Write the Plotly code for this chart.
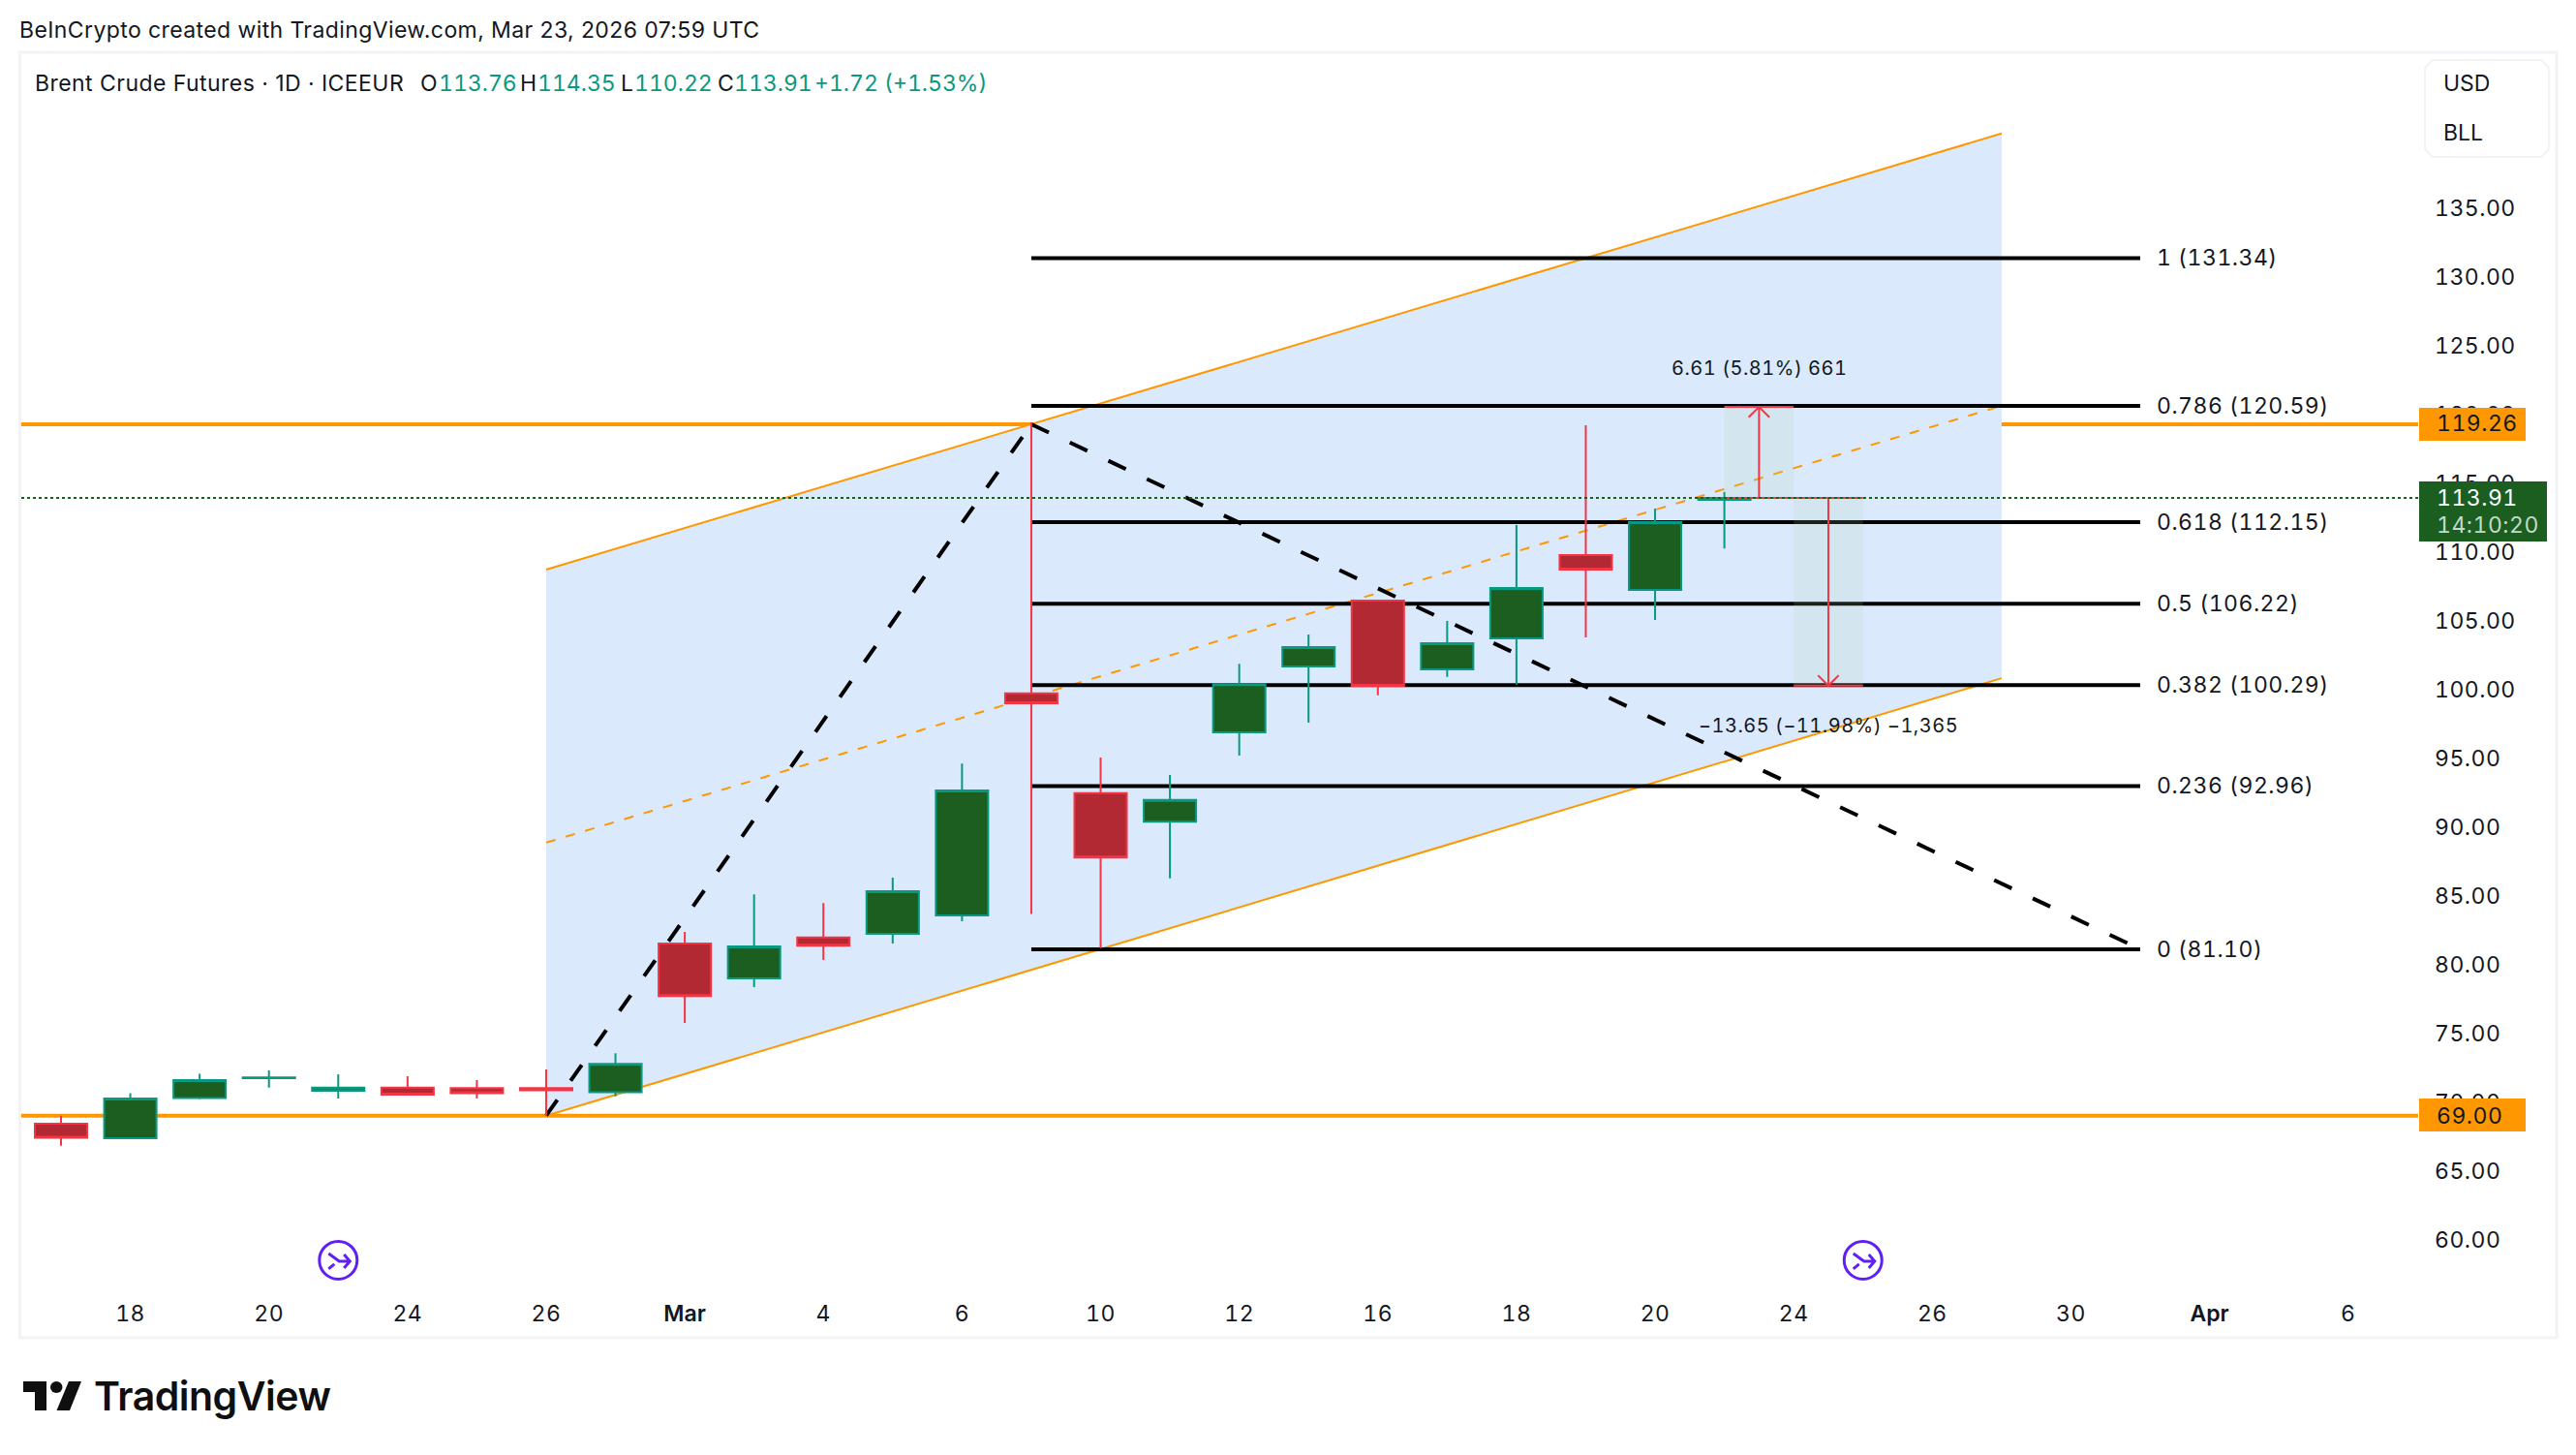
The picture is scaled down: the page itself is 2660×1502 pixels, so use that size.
import plotly.graph_objects as go

W, H = 2660, 1502
L, R, T, B = 22, 2497, 55, 1340

FONT = "Inter"
INK = "#131722"
UP_EDGE = "#089981"
UP_FILL = "#1B5E20"
DOWN_EDGE = "#F23645"
DOWN_FILL = "#B22833"
ORANGE = "#FF9800"
CHANNEL = "#DAE9FC"
PURPLE = "#5F1FF5"

# trading-day calendar (no weekends, no Good Friday)
days = ["Feb 17", "Feb 18", "Feb 19", "Feb 20", "Feb 23", "Feb 24", "Feb 25", "Feb 26", "Feb 27",
        "Mar 2", "Mar 3", "Mar 4", "Mar 5", "Mar 6", "Mar 9", "Mar 10", "Mar 11", "Mar 12", "Mar 13",
        "Mar 16", "Mar 17", "Mar 18", "Mar 19", "Mar 20", "Mar 23", "Mar 24", "Mar 25", "Mar 26",
        "Mar 27", "Mar 30", "Mar 31", "Apr 1", "Apr 2", "Apr 6"]
tick_days = ["Feb 18", "Feb 20", "Feb 24", "Feb 26", "Mar 2", "Mar 4", "Mar 6", "Mar 10", "Mar 12",
             "Mar 16", "Mar 18", "Mar 20", "Mar 24", "Mar 26", "Mar 30", "Apr 1", "Apr 6"]
tick_text = ["18", "20", "24", "26", "Mar", "4", "6", "10", "12", "16", "18", "20", "24", "26", "30", "Apr", "6"]

# OHLC, one per trading day up to Mar 23
opens = [68.41, 67.36, 70.29, 71.72, 70.81, 71.04, 71.00, 71.00, 70.71,
         81.51, 78.98, 81.96, 82.22, 83.55, 99.70, 92.45, 90.37, 96.86, 101.65,
         106.44, 101.44, 103.69, 109.75, 107.22, 113.76]
highs = [69.00, 70.64, 72.05, 72.29, 72.00, 71.86, 71.58, 72.36, 73.53,
         82.36, 85.09, 84.45, 86.30, 94.59, 119.40, 95.04, 93.77, 101.84, 103.98,
         106.44, 104.96, 111.93, 119.19, 113.13, 114.35]
lows = [66.82, 67.36, 70.20, 71.04, 70.24, 70.53, 70.24, 69.00, 70.40,
        75.74, 78.35, 80.32, 81.52, 83.13, 83.66, 81.18, 86.25, 95.17, 97.57,
        99.56, 100.90, 100.34, 103.76, 105.03, 110.22]
closes = [67.40, 70.24, 71.58, 71.78, 71.04, 70.53, 70.64, 70.85, 72.76,
          77.69, 81.30, 81.35, 85.32, 92.64, 98.97, 87.76, 91.96, 100.37, 103.07,
          100.24, 103.34, 107.36, 108.69, 112.15, 113.91]

# drawings
channel_days = ["Feb 26", "Mar 27"]
channel_top = [108.70, 140.40]
channel_mid = [88.85, 120.60]
channel_bottom = [69.00, 100.80]
resistance = 119.26
support = 69.00
last_price = 113.91
zigzag_days = ["Feb 26", "Mar 9", "Mar 31"]
zigzag_prices = [69.00, 119.26, 81.10]
fib_days = ["Mar 9", "Mar 31"]
fib_ratios = ["1", "0.786", "0.618", "0.5", "0.382", "0.236", "0"]
fib_prices = [131.34, 120.59, 112.15, 106.22, 100.29, 92.96, 81.10]
measure_up_days = ["Mar 23", "Mar 24"]
measure_up_prices = [113.91, 120.52]
measure_up_text = "6.61 (5.81%) 661"
measure_up_text_price = 123.35
measure_down_days = ["Mar 24", "Mar 25"]
measure_down_prices = [113.91, 100.26]
measure_down_text = "\u221213.65 (\u221211.98%) \u22121,365"
measure_down_text_price = 97.35
event_days = ["Feb 23", "Mar 25"]
event_price = 58.49
y_ticks = [60, 65, 70, 75, 80, 85, 90, 95, 100, 105, 110, 115, 120, 125, 130, 135]

ix = {d: i for i, d in enumerate(days)}


def xi(d):
    return ix[d]


def fx(px):
    return (px - L) / (R - L)


def fy(py):
    return (B - py) / (B - T)


def ppath(points, close=True):
    s = "M" + " L".join(f"{fx(a):.5f},{fy(b):.5f}" for a, b in points)
    return s + (" Z" if close else "")


def num(s, ls=0.5):
    return f'<span style="font-variant-numeric:tabular-nums;letter-spacing:{ls}px">{s}</span>'


def track(s, ls):
    return f'<span style="letter-spacing:{ls}px">{s}</span>'


shapes = []


def seg(x0, y0, x1, y1, color, width, dash="solid"):
    shapes.append(dict(type="line", xref="x", yref="y", x0=x0, y0=y0, x1=x1, y1=y1,
                       line=dict(color=color, width=width, dash=dash), layer="below"))


# frame
shapes.append(dict(type="rect", xref="paper", yref="paper", x0=fx(20.5), x1=fx(2640), y0=fy(1381), y1=fy(54),
                   line=dict(color="#F1F3F6", width=3), fillcolor="rgba(0,0,0,0)", layer="below"))

# channel
cx = [xi(d) for d in channel_days]
shapes.append(dict(type="path", xref="x", yref="y", layer="below", fillcolor=CHANNEL, line=dict(width=0),
                   path=f"M{cx[0]},{channel_top[0]} L{cx[1]},{channel_top[1]} "
                        f"L{cx[1]},{channel_bottom[1]} L{cx[0]},{channel_bottom[0]} Z"))
seg(cx[0], channel_top[0], cx[1], channel_top[1], ORANGE, 2)
seg(cx[0], channel_bottom[0], cx[1], channel_bottom[1], ORANGE, 2)
seg(cx[0], channel_mid[0], cx[1], channel_mid[1], ORANGE, 2, "10px,11px")

# fib levels
fib_x = [xi(d) for d in fib_days]
for p in fib_prices:
    seg(fib_x[0], p, fib_x[1], p, "#000000", 4)

# horizontal levels
for p in (resistance, support):
    shapes.append(dict(type="line", xref="paper", yref="y", x0=0, x1=1, y0=p, y1=p,
                       line=dict(color=ORANGE, width=4), layer="below"))

# zigzag
for a in range(len(zigzag_days) - 1):
    seg(xi(zigzag_days[a]), zigzag_prices[a], xi(zigzag_days[a + 1]), zigzag_prices[a + 1],
        "#000000", 4, "20px,24px")

fig = go.Figure()

# candles
fig.add_trace(go.Candlestick(
    x=list(range(len(opens))), open=opens, high=highs, low=lows, close=closes,
    increasing=dict(line=dict(color=UP_EDGE, width=2), fillcolor=UP_FILL),
    decreasing=dict(line=dict(color=DOWN_EDGE, width=2), fillcolor=DOWN_FILL),
    whiskerwidth=0, hoverinfo="skip"))

# measure boxes
for dd, pp in ((measure_up_days, measure_up_prices), (measure_down_days, measure_down_prices)):
    a, b = xi(dd[0]), xi(dd[1])
    fig.add_trace(go.Scatter(x=[a, b, b, a, a], y=[pp[0], pp[0], pp[1], pp[1], pp[0]], fill="toself",
                             fillcolor="rgba(178,210,168,0.157)", mode="lines", line=dict(width=0)))
    fig.add_trace(go.Scatter(x=[a, b], y=[pp[0], pp[0]], mode="lines", line=dict(color=DOWN_EDGE, width=2)))
    fig.add_trace(go.Scatter(x=[a, b], y=[pp[1], pp[1]], mode="lines", line=dict(color=DOWN_EDGE, width=2)))
    m = (a + b) / 2
    fig.add_trace(go.Scatter(x=[m, m], y=pp, mode="lines", line=dict(color=DOWN_EDGE, width=2)))
    sign = 1 if pp[1] > pp[0] else -1
    fig.add_trace(go.Scatter(x=[m - 0.15, m, m + 0.15], y=[pp[1] - sign * 0.75, pp[1], pp[1] - sign * 0.75],
                             mode="lines", line=dict(color=DOWN_EDGE, width=2)))

# last price dotted
full = [-0.573, 34.01]
fig.add_trace(go.Scatter(x=full, y=[last_price, last_price], mode="lines",
                         line=dict(color=UP_FILL, width=2, dash="3px,3px")))

# event markers
ev = [xi(d) for d in event_days]
fig.add_trace(go.Scatter(x=ev, y=[event_price] * 2, mode="markers",
                         marker=dict(symbol="circle-open", size=39, color=PURPLE,
                                     line=dict(color=PURPLE, width=3))))

annotations = []


def text(px, py, s, size=23, color=INK, anchor="left", weight=None):
    f = dict(family=FONT, size=size, color=color)
    if weight:
        f["weight"] = weight
    annotations.append(dict(x=fx(px), y=fy(py), xref="paper", yref="paper", text=s, showarrow=False,
                            xanchor=anchor, yanchor="middle", font=f, borderpad=0, borderwidth=0))


# fib labels
for ratio, p in zip(fib_ratios, fib_prices):
    annotations.append(dict(x=fib_x[1], y=p, xref="x", yref="y", text=num(f"{ratio} ({p:.2f})"), showarrow=False,
                            xanchor="left", yanchor="middle", xshift=15,
                            font=dict(family=FONT, size=23, color=INK)))

# measure labels
annotations.append(dict(x=(xi(measure_up_days[0]) + xi(measure_up_days[1])) / 2, y=measure_up_text_price,
                        xref="x", yref="y", text=num(measure_up_text), showarrow=False,
                        font=dict(family=FONT, size=20, color=INK)))
annotations.append(dict(x=(xi(measure_down_days[0]) + xi(measure_down_days[1])) / 2, y=measure_down_text_price,
                        xref="x", yref="y", text=num(measure_down_text), showarrow=False,
                        font=dict(family=FONT, size=20, color=INK)))

# header & legend
text(20, 31, track("BeInCrypto created with TradingView.com, Mar 23, 2026 07:59 UTC", 0.4))
text(36, 86, track("Brent Crude Futures \u00b7 1D \u00b7 ICEEUR", 0.45))
for px_l, lab, px_v, val in ((434, "O", 453, "113.76"), (537, "H", 555, "114.35"),
                             (641, "L", 655, "110.22"), (741, "C", 758, "113.91")):
    text(px_l, 86, lab)
    text(px_v, 86, num(val, 0), color=UP_EDGE)
text(841, 86, num("+1.72 (+1.53%)", 0), color=UP_EDGE)

# currency box
text(2523, 86, "USD")
text(2523, 137, "BLL")

# price tags
text(2516, 437, num(f"{resistance:.2f}"))
text(2516, 1152, num(f"{support:.2f}"))
text(2516, 514, num(f"{last_price:.2f}"), color="#FFFFFF")
text(2516, 542, num("14:10:20"), color="#C6D9C7")

# brand
text(97, 1441, track("TradingView", -0.5), size=41, color="#0F0F0F", weight=600)

# currency box
rx = 8
bx0, bx1, by0, by1 = 2504, 2632, 62, 162
shapes.append(dict(type="path", xref="paper", yref="paper",
                   path=ppath([(bx0 + rx, by0), (bx1 - rx, by0), (bx1, by0 + rx), (bx1, by1 - rx),
                               (bx1 - rx, by1), (bx0 + rx, by1), (bx0, by1 - rx), (bx0, by0 + rx)]),
                   line=dict(color="#F1F3F6", width=2), fillcolor="#FFFFFF", layer="above"))
# price tag backgrounds
for (y0, y1, x1, col) in ((421, 455, 2608, ORANGE), (1134, 1168, 2608, ORANGE), (497, 559, 2630, UP_FILL)):
    shapes.append(dict(type="rect", xref="paper", yref="paper", x0=fx(2498), x1=fx(x1), y0=fy(y1), y1=fy(y0),
                       line=dict(width=0), fillcolor=col, layer="above"))
# logo
shapes.append(dict(type="path", xref="paper", yref="paper",
                   path=ppath([(24, 1426), (48, 1426), (48, 1456), (36, 1456), (36, 1437), (24, 1437)]),
                   line=dict(width=0), fillcolor="#0F0F0F", layer="above"))
shapes.append(dict(type="circle", xref="paper", yref="paper", x0=fx(52), x1=fx(64.5), y0=fy(1438), y1=fy(1426),
                   line=dict(width=0), fillcolor="#0F0F0F", layer="above"))
shapes.append(dict(type="path", xref="paper", yref="paper",
                   path=ppath([(71, 1426), (84, 1426), (72, 1456), (58.5, 1456)]),
                   line=dict(width=0), fillcolor="#0F0F0F", layer="above"))
# event glyph
for d in event_days:
    shapes.append(dict(type="path", xref="x", yref="y", xsizemode="pixel", ysizemode="pixel",
                       xanchor=xi(d), yanchor=event_price,
                       path="M-10,7 L1,-1 L12,-1 M6,6 L12,-1 L6,-8 M-10,-9 L-4,-4",
                       line=dict(color=PURPLE, width=3), fillcolor="rgba(0,0,0,0)", layer="above"))

x_tick_labels = [f'<span style="font-weight:600">{t}</span>' if t in ("Mar", "Apr") else num(t) for t in tick_text]

fig.update_layout(
    width=W, height=H, autosize=False, showlegend=False, hovermode=False,
    paper_bgcolor="#FFFFFF", plot_bgcolor="#FFFFFF",
    margin=dict(l=L, r=W - R, t=T, b=H - B, pad=0),
    boxgap=0.245, boxgroupgap=0,
    font=dict(family=FONT, size=23, color=INK),
    xaxis=dict(type="linear", range=[-0.573, 34.01], tickmode="array", tickvals=[xi(d) for d in tick_days],
               ticktext=x_tick_labels, showgrid=False, zeroline=False, showline=False, ticks="",
               rangeslider=dict(visible=False), ticklabelstandoff=0, tickfont=dict(family=FONT, size=23, color=INK)),
    yaxis=dict(side="right", range=[55.74, 146.23], tickmode="array", tickvals=y_ticks,
               ticktext=[num(f"{v:.2f}") for v in y_ticks], showgrid=False, zeroline=False, showline=False, ticks="",
               ticklabelstandoff=16, tickfont=dict(family=FONT, size=23, color=INK)),
    annotations=annotations, shapes=shapes,
)

fig.write_html("out.html", config={"displayModeBar": False},
               post_script="document.body.style.margin='0';document.documentElement.style.overflow='hidden';")
